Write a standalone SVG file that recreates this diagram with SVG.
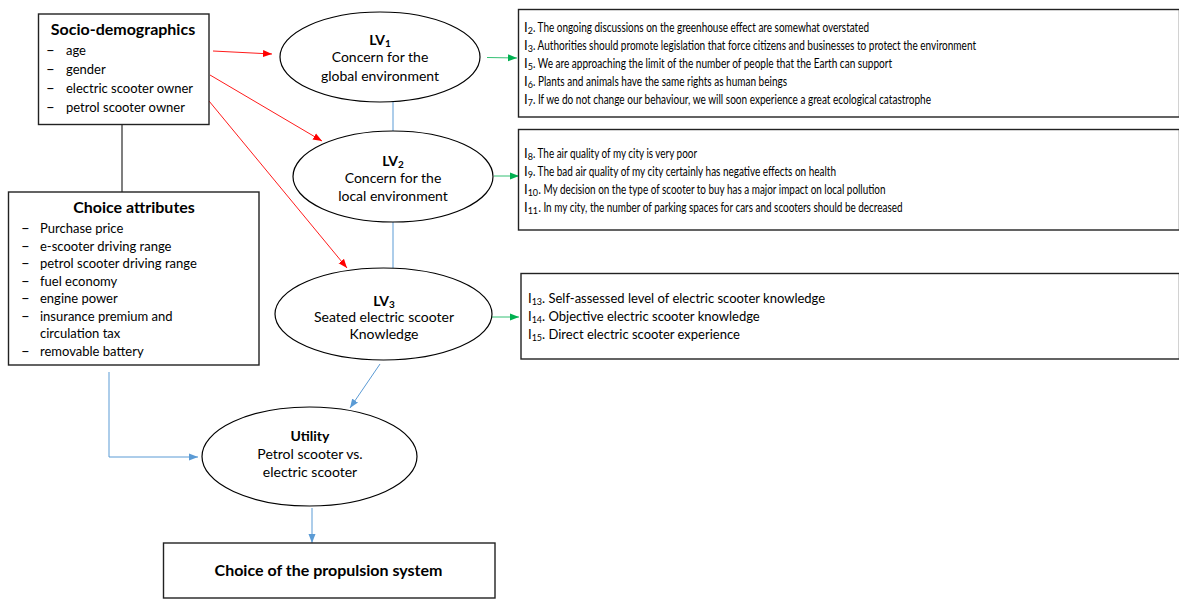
<svg xmlns="http://www.w3.org/2000/svg" width="1179" height="599" viewBox="0 0 1179 599">
<style>
text{font-family:Lato,"Open Sans","Liberation Sans",sans-serif;fill:#000}
.box{fill:#fff;stroke:#222;stroke-width:1.4}
.ell{fill:#fff;stroke:#000;stroke-width:1.2}
.t{font-size:14px}
.b{font-weight:bold}
.i{font-size:13px}
.d{font-size:15px}
.c{text-anchor:middle}
.s{font-size:9px}
.red{stroke:#ff0000;stroke-width:0.9;fill:none}
.blue{stroke:#5b9bd5;stroke-width:1;fill:none}
.green{stroke:#00b050;stroke-width:0.8;fill:none}
.gray{stroke:#555;stroke-width:1.5;fill:none}
</style>
<defs>
<marker id="ar" markerUnits="userSpaceOnUse" markerWidth="9" markerHeight="8" refX="9" refY="4" orient="auto"><path d="M0,0.5 L9,4 L0,7.5 z" fill="#ff0000"/></marker>
<marker id="ab" markerUnits="userSpaceOnUse" markerWidth="9" markerHeight="8" refX="9" refY="4" orient="auto"><path d="M0,0.5 L9,4 L0,7.5 z" fill="#5b9bd5"/></marker>
<marker id="ag" markerUnits="userSpaceOnUse" markerWidth="9" markerHeight="8" refX="9" refY="4" orient="auto"><path d="M0,0.5 L9,4 L0,7.5 z" fill="#00b050"/></marker>
</defs>
<rect width="1179" height="599" fill="#fff"/>
<g id="connectors">
<line class="gray" x1="122" y1="125" x2="122" y2="192"/>
<line class="red" x1="213" y1="51" x2="272" y2="54" marker-end="url(#ar)"/>
<line class="red" x1="210" y1="75" x2="322" y2="141" marker-end="url(#ar)"/>
<line class="red" x1="209" y1="101" x2="347" y2="268" marker-end="url(#ar)"/>
<line class="blue" x1="393" y1="102" x2="393" y2="131"/>
<line class="blue" x1="393" y1="222" x2="393" y2="268"/>
<line class="blue" x1="380" y1="364" x2="350" y2="408" marker-end="url(#ab)"/>
<polyline class="blue" points="109,372 109,457 198,457" marker-end="url(#ab)"/>
<line class="blue" x1="312" y1="508" x2="312" y2="543" marker-end="url(#ab)"/>
<line class="green" x1="487" y1="57.5" x2="517" y2="58" marker-end="url(#ag)"/>
<line class="green" x1="494" y1="176" x2="519" y2="176" marker-end="url(#ag)"/>
<line class="green" x1="492" y1="317" x2="519" y2="317" marker-end="url(#ag)"/>
</g>
<g id="socio">
<rect class="box" x="38.5" y="14" width="170.5" height="110.5"/>
<text class="c b" x="123" y="35" font-size="16">Socio-demographics</text>
<g class="i">
<text class="d" x="46" y="55">–</text><text x="66" y="55">age</text>
<text class="d" x="46" y="74">–</text><text x="66" y="74">gender</text>
<text class="d" x="46" y="93">–</text><text x="66" y="93">electric scooter owner</text>
<text class="d" x="46" y="111.5">–</text><text x="66" y="111.5">petrol scooter owner</text>
</g>
</g>
<g id="choiceattr">
<rect class="box" x="8.5" y="192" width="250.5" height="173"/>
<text class="c b" x="134" y="213" font-size="16">Choice attributes</text>
<g class="i">
<text class="d" x="21" y="233">–</text><text x="40" y="233">Purchase price</text>
<text class="d" x="21" y="250.5">–</text><text x="40" y="250.5">e-scooter driving range</text>
<text class="d" x="21" y="268">–</text><text x="40" y="268">petrol scooter driving range</text>
<text class="d" x="21" y="285.5">–</text><text x="40" y="285.5">fuel economy</text>
<text class="d" x="21" y="303">–</text><text x="40" y="303">engine power</text>
<text class="d" x="21" y="320.5">–</text><text x="40" y="320.5">insurance premium and</text>
<text x="40" y="338">circulation tax</text>
<text class="d" x="21" y="355.5">–</text><text x="40" y="355.5">removable battery</text>
</g>
</g>
<g id="lv1">
<ellipse class="ell" cx="380" cy="57" rx="100" ry="45"/>
<text class="c t b" x="380" y="45">LV<tspan font-size="10" baseline-shift="-2">1</tspan></text>
<text class="c t" x="380" y="62">Concern for the</text>
<text class="c t" x="380" y="81">global environment</text>
</g>
<g id="lv2">
<ellipse class="ell" cx="393" cy="176.5" rx="100" ry="45.5"/>
<text class="c t b" x="393" y="166">LV<tspan font-size="10" baseline-shift="-2">2</tspan></text>
<text class="c t" x="393" y="183">Concern for the</text>
<text class="c t" x="393" y="201">local environment</text>
</g>
<g id="lv3">
<ellipse class="ell" cx="383.5" cy="314" rx="108.5" ry="46"/>
<text class="c t b" x="384" y="306">LV<tspan font-size="10" baseline-shift="-2">3</tspan></text>
<text class="c t" x="384" y="322">Seated electric scooter</text>
<text class="c t" x="384" y="339">Knowledge</text>
</g>
<g id="utility">
<ellipse class="ell" cx="309.5" cy="456.5" rx="107.5" ry="49.5"/>
<text class="c t b" x="310" y="441">Utility</text>
<text class="c t" x="310" y="459">Petrol scooter vs.</text>
<text class="c t" x="310" y="477">electric scooter</text>
</g>
<g id="choice">
<rect class="box" x="163.5" y="543" width="331.5" height="55"/>
<text class="c b" x="328.5" y="576" font-size="16">Choice of the propulsion system</text>
</g>
<g id="items1">
<rect class="box" x="518.5" y="9.5" width="661" height="107.5"/>
<g class="i">
<text x="524" y="31.5">I<tspan class="s" baseline-shift="-2">2</tspan></text>
<text x="533" y="31.5" textLength="336" lengthAdjust="spacingAndGlyphs">. The ongoing discussions on the greenhouse effect are somewhat overstated</text>
<text x="524" y="49.5">I<tspan class="s" baseline-shift="-2">3</tspan></text>
<text x="533" y="49.5" textLength="443" lengthAdjust="spacingAndGlyphs">. Authorities should promote legislation that force citizens and businesses to protect the environment</text>
<text x="524" y="67.5">I<tspan class="s" baseline-shift="-2">5</tspan></text>
<text x="533" y="67.5" textLength="359" lengthAdjust="spacingAndGlyphs">. We are approaching the limit of the number of people that the Earth can support</text>
<text x="524" y="85.5">I<tspan class="s" baseline-shift="-2">6</tspan></text>
<text x="533" y="85.5" textLength="254" lengthAdjust="spacingAndGlyphs">. Plants and animals have the same rights as human beings</text>
<text x="524" y="103.5">I<tspan class="s" baseline-shift="-2">7</tspan></text>
<text x="533" y="103.5" textLength="398" lengthAdjust="spacingAndGlyphs">. If we do not change our behaviour, we will soon experience a great ecological catastrophe</text>
</g>
</g>
<g id="items2">
<rect class="box" x="518.5" y="129.5" width="661" height="100.5"/>
<g class="i">
<text x="524" y="157.5">I<tspan class="s" baseline-shift="-2">8</tspan></text>
<text x="533" y="157.5" textLength="164" lengthAdjust="spacingAndGlyphs">. The air quality of my city is very poor</text>
<text x="524" y="175.5">I<tspan class="s" baseline-shift="-2">9</tspan></text>
<text x="533" y="175.5" textLength="303" lengthAdjust="spacingAndGlyphs">. The bad air quality of my city certainly has negative effects on health</text>
<text x="524" y="193.5">I<tspan class="s" baseline-shift="-2">10</tspan></text>
<text x="538.5" y="193.5" textLength="347" lengthAdjust="spacingAndGlyphs">. My decision on the type of scooter to buy has a major impact on local pollution</text>
<text x="524" y="211.5">I<tspan class="s" baseline-shift="-2">11</tspan></text>
<text x="538.5" y="211.5" textLength="364" lengthAdjust="spacingAndGlyphs">. In my city, the number of parking spaces for cars and scooters should be decreased</text>
</g>
</g>
<g id="items3">
<rect class="box" x="521" y="273.5" width="658.5" height="85.5"/>
<g class="i">
<text x="528" y="302.5">I<tspan class="s" baseline-shift="-2">13</tspan>. Self-assessed level of electric scooter knowledge</text>
<text x="528" y="320.5">I<tspan class="s" baseline-shift="-2">14</tspan>. Objective electric scooter knowledge</text>
<text x="528" y="338.5">I<tspan class="s" baseline-shift="-2">15</tspan>. Direct electric scooter experience</text>
</g>
</g>
</svg>
